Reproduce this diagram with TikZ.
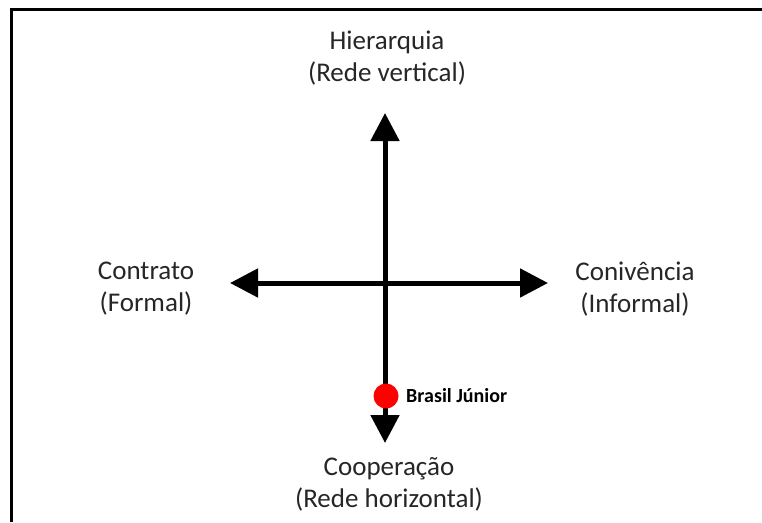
\documentclass[tikz,border=0pt]{standalone}
\usepackage{fontspec}
\setmainfont{Carlito}
\usetikzlibrary{arrows.meta,positioning}

\tikzset{
    axis/.style={line width=5pt, {Triangle[length=28pt,width=28pt]}-{Triangle[length=28pt,width=28pt]}},
    pole/.style={align=center, font=\fontsize{27}{32}\selectfont, text=black!85},
    marker/.style={circle, fill=red, inner sep=0pt, minimum size=25pt},
}

\begin{document}
\begin{tikzpicture}[x=1pt, y=-1pt]
    \useasboundingbox (0,0) rectangle (762,522);

    % Frame (left and top edges)
    \draw[line width=3pt] (11,522) -- (11,9.5) -- (762,9.5);

    % Poles
    \node[pole] (hier) at (387,58) {Hierarquia\\(Rede vertical)};
    \node[pole] (contr) at (146,289) {Contrato\\(Formal)};
    \node[pole] (conv) at (635,289) {Conivência\\(Informal)};
    \node[pole] (coop) at (389,484) {Cooperação\\(Rede horizontal)};

    % Axes
    \coordinate (up) at (385,113);
    \coordinate (down) at (385,443);
    \coordinate (left) at (230,283);
    \coordinate (right) at (548,283);
    \draw[axis] (down) -- (up);
    \draw[axis] (left) -- (right);

    % Position of the company
    \node[marker] (jr) at (386,396) {};
    \node[right=4pt of jr, font=\fontsize{20}{23}\selectfont\bfseries] (jrlabel) {Brasil Júnior};
\end{tikzpicture}
\end{document}
